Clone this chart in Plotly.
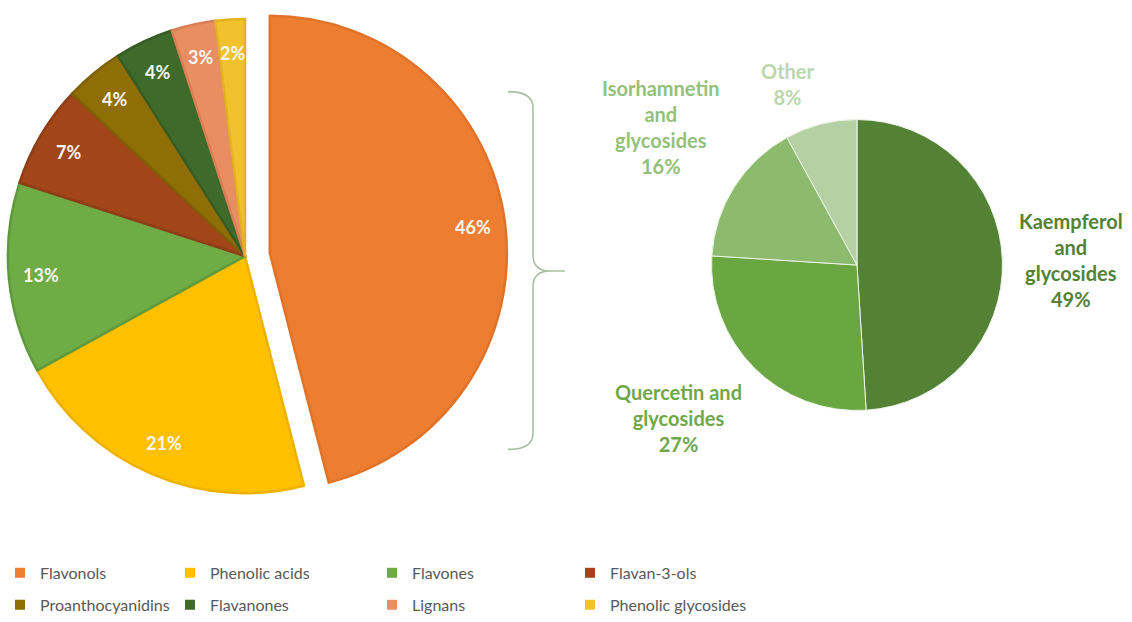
import math
import plotly.graph_objects as go

W, H = 1132, 622
MB = 80                      # bottom strip reserved for the two legend rows
PH = H - MB                  # plot-area height in px

# ---- Phenolic classes (left pie) ----
classes = ["Flavonols", "Phenolic acids", "Flavones", "Flavan-3-ols",
           "Proanthocyanidins", "Flavanones", "Lignans", "Phenolic glycosides"]
class_pct = [46, 21, 13, 7, 4, 4, 3, 2]
class_colors = ["#ED7D31", "#FFC000", "#6FAC46", "#A2461A",
                "#8F6E05", "#3F6B2A", "#E98D62", "#F2C12E"]
class_edges = ["#E07328", "#EDB200", "#5E9A3C", "#8E3D14",
               "#7E6104", "#355C23", "#D97E55", "#E3B322"]

# ---- Flavonol breakdown (right pie) ----
flavonols = ["Kaempferol and glycosides", "Quercetin and glycosides",
             "Isorhamnetin and glycosides", "Other"]
flavonol_pct = [49, 27, 16, 8]
flavonol_wrapped = ["Kaempferol<br>and<br>glycosides", "Quercetin and<br>glycosides",
                    "Isorhamnetin<br>and<br>glycosides", "Other"]
flavonol_colors = ["#548235", "#6AA743", "#8DBB6E", "#B5D1A4"]
flavonol_text = ["#548235", "#6FA84A", "#94C07C", "#BCD6AE"]

FONT = "Lato"
CLEAR = "rgba(0,0,0,0)"
explode = 0.105              # offset of the exploded slice, as a fraction of the radius


# helpers: pixel position -> paper fraction (plot area starts at left/top edge)
def fx(x):
    return x / W


def fy(y):
    return (PH - y) / PH


def domain(cx, cy, r):
    return dict(x=[fx(cx - r), fx(cx + r)], y=[fy(cy + r), fy(cy - r)])


# left pie placement
L_CX, L_CY, L_R = 245, 257, 238
# right pie placement
R_CX, R_CY, R_R = 857, 266, 146

# the first class is exploded outward along its bisector
total = sum(class_pct)
first_mid = math.radians(class_pct[0] / 2 / total * 360)
off_x = explode * L_R * math.sin(first_mid)
off_y = -explode * L_R * math.cos(first_mid)

fig = go.Figure()

# body of the pie (exploded slice left empty)
fig.add_trace(go.Pie(
    labels=classes, values=class_pct, sort=False, direction="clockwise", rotation=0,
    marker=dict(colors=[CLEAR] + class_colors[1:],
                line=dict(color=[CLEAR] + class_edges[1:], width=2.5)),
    textinfo="none", showlegend=False, hoverinfo="skip",
    domain=domain(L_CX, L_CY, L_R),
))
# exploded slice, same data, drawn shifted outward
fig.add_trace(go.Pie(
    labels=classes, values=class_pct, sort=False, direction="clockwise", rotation=0,
    marker=dict(colors=[class_colors[0]] + [CLEAR] * (len(classes) - 1),
                line=dict(color=[class_edges[0]] + [CLEAR] * (len(classes) - 1), width=2.5)),
    textinfo="none", showlegend=False, hoverinfo="skip",
    domain=domain(L_CX + off_x, L_CY + off_y, L_R),
))

fig.add_trace(go.Pie(
    labels=flavonols, values=flavonol_pct, sort=False, direction="clockwise", rotation=0,
    marker=dict(colors=flavonol_colors, line=dict(color="#EEF4EA", width=1)),
    textinfo="none", showlegend=False, hoverinfo="label+percent",
    domain=domain(R_CX, R_CY, R_R),
))

annotations = []

# percentage labels inside the left pie, near the outer rim of each slice
cum = 0
for i, v in enumerate(class_pct):
    mid = math.radians((cum + v / 2) / total * 360)
    cum += v
    dx, dy = math.sin(mid), -math.cos(mid)
    r = 0.86 * L_R
    x = L_CX + r * dx + (off_x if i == 0 else 0)
    y = L_CY + r * dy + (off_y if i == 0 else 0)
    annotations.append(dict(
        x=fx(x), y=fy(y), xref="paper", yref="paper", showarrow=False,
        text=f"{v}%", font=dict(family=FONT, size=18, color="#F7F7F2", weight="bold"),
        xanchor="center", yanchor="middle"))

# outside labels for the right pie
rtotal = sum(flavonol_pct)
cum = 0
gap = 14
for name, v, col in zip(flavonol_wrapped, flavonol_pct, flavonol_text):
    mid = math.radians((cum + v / 2) / rtotal * 360)
    cum += v
    dx, dy = math.sin(mid), -math.cos(mid)
    x = R_CX + (R_R + gap) * dx
    y = R_CY + (R_R + gap) * dy
    xa = "left" if dx > 0 else "right"
    if abs(dy) < 0.4:
        ya = "middle"
    elif dy < 0:
        ya = "bottom"
    else:
        ya = "top"
    annotations.append(dict(
        x=fx(x), y=fy(y), xref="paper", yref="paper", showarrow=False,
        text=f"{name}<br>{v}%", align="center",
        font=dict(family=FONT, size=20, color=col, weight="bold"),
        xanchor=xa, yanchor=ya))

# curly brace linking the Flavonols slice to its breakdown
bx, btop, bbot, bmid, bhook, btip = 533, 92, 451, 272, 508, 565


def P(x, y):
    return f"{fx(x):.5f},{fy(y):.5f}"


brace = (f"M {P(bhook, btop)} Q {P(bx, btop)} {P(bx, btop + 16)} "
         f"L {P(bx, bmid - 16)} Q {P(bx, bmid)} {P(bx + 17, bmid)} L {P(btip, bmid)} "
         f"M {P(bx + 17, bmid)} Q {P(bx, bmid)} {P(bx, bmid + 16)} "
         f"L {P(bx, bbot - 16)} Q {P(bx, bbot)} {P(bhook, bbot)}")
shapes = [dict(type="path", path=brace, xref="paper", yref="paper",
               line=dict(color="#A9BFA2", width=1.6))]

# legend entries: two rows of four, square swatches
col_widths = [125, 157, 153, 200]
for i, (lab, col) in enumerate(zip(classes, class_colors)):
    fig.add_trace(go.Scatter(
        x=[None], y=[None], mode="markers", name=lab,
        marker=dict(symbol="square", size=10, color=col),
        legend="legend" if i < 4 else "legend2",
        legendwidth=col_widths[i % 4], hoverinfo="skip"))

legend_common = dict(orientation="h", xanchor="left", x=0, yanchor="middle",
                     font=dict(family=FONT, size=16, color="#595959"),
                     bgcolor="rgba(0,0,0,0)", itemclick=False, itemdoubleclick=False)

fig.update_layout(
    width=W, height=H, margin=dict(l=0, r=0, t=0, b=MB),
    paper_bgcolor="white", plot_bgcolor="white",
    xaxis=dict(visible=False), yaxis=dict(visible=False),
    annotations=annotations, shapes=shapes,
    legend=dict(**legend_common, y=fy(575)),
    legend2=dict(**legend_common, y=fy(607)),
)

fig.write_html("out.html")
